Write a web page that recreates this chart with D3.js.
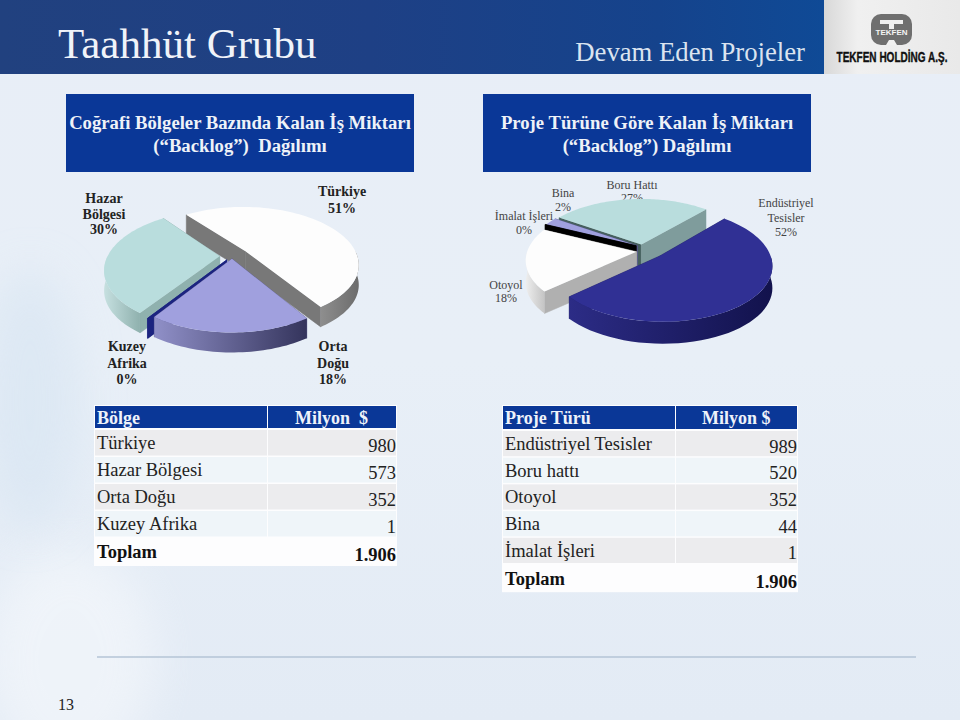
<!DOCTYPE html>
<html>
<head>
<meta charset="utf-8">
<script src="https://cdn.jsdelivr.net/npm/d3@7"></script>
<style>
html, body { margin: 0; padding: 0; background: #e6edf6; }
text { font-family: "Liberation Serif", serif; white-space: pre; }
</style>
</head>
<body>
<div class="chart"></div>
<script>
(function (){

	// Regions
	var regionNames = ["Türkiye", "Hazar Bölgesi", "Orta Doğu", "Kuzey Afrika"];
	var regionValues = [980, 573, 352, 1];
	var regionTotal = "1.906";
	var regionPieOrder = ["Türkiye", "Orta Doğu", "Kuzey Afrika", "Hazar Bölgesi"];
	var regionPercents = [["Türkiye", 51], ["Hazar", "Bölgesi", 30], ["Kuzey", "Afrika", 0], ["Orta", "Doğu", 18]];

	// Project types
	var projectNames = ["Endüstriyel Tesisler", "Boru hattı", "Otoyol", "Bina", "İmalat İşleri"];
	var projectValues = [989, 520, 352, 44, 1];
	var projectTotal = "1.906";
	var projectPieOrder = ["Endüstriyel Tesisler", "Otoyol", "İmalat İşleri", "Bina", "Boru hattı"];
	var projectPercents = [["Endüstriyel", "Tesisler", 52], ["Boru Hattı", 27], ["Otoyol", 18], ["Bina", 2], ["İmalat İşleri", 0]];

	var width = 960, height = 720;

	var svg = d3.select(".chart").append("svg")
		.attr("width", width)
		.attr("height", height)
		.style("display", "block");

	var defs = svg.append("defs");

	function linearGrad(id, stops, horizontal) {
		var g = defs.append("linearGradient").attr("id", id)
			.attr("x1", 0).attr("y1", 0)
			.attr("x2", horizontal ? 1 : 0).attr("y2", horizontal ? 0 : 1);
		stops.forEach(function(s){
			g.append("stop").attr("offset", s[0]).attr("stop-color", s[1]);
		});
	}

	linearGrad("bg", [[0, "#e8eef7"], [0.5, "#e8eff7"], [1, "#e3ebf5"]], false);
	linearGrad("head", [[0, "#21417f"], [0.45, "#1e4085"], [0.8, "#15438c"], [1, "#0f4a96"]], true);
	linearGrad("logoBg", [[0, "#d8d8d8"], [0.25, "#f0f0f0"], [1, "#e9e9e9"]], true);
	linearGrad("wallHazar", [[0, "#c6e0e0"], [1, "#8fb1ae"]], true);
	linearGrad("wallOrta", [[0, "#9090c8"], [1, "#34345c"]], true);
	linearGrad("wallTurkiye", [[0, "#8e8e8e"], [1, "#6c6c6c"]], true);
	linearGrad("wallEnd", [[0, "#2c2c86"], [1, "#12124c"]], true);
	linearGrad("wallOtoyol", [[0, "#eeeeee"], [1, "#c4c4c4"]], true);

	defs.append("filter").attr("id", "soft")
		.attr("x", "-50%").attr("y", "-50%").attr("width", "200%").attr("height", "200%")
		.append("feGaussianBlur").attr("stdDeviation", 22);

	// Background
	svg.append("rect").attr("width", width).attr("height", height).attr("fill", "url(#bg)");
	svg.append("ellipse").attr("cx", 70).attr("cy", 660).attr("rx", 85).attr("ry", 110)
		.attr("fill", "#ffffff").attr("opacity", 0.4).attr("filter", "url(#soft)");
	svg.append("ellipse").attr("cx", 30).attr("cy", 400).attr("rx", 50).attr("ry", 130)
		.attr("fill", "#d6e4f2").attr("opacity", 0.6).attr("filter", "url(#soft)");

	svg.append("rect").attr("width", 824).attr("height", 74).attr("fill", "url(#head)");
	svg.append("rect").attr("x", 824).attr("width", 136).attr("height", 74).attr("fill", "url(#logoBg)");

	// Header text
	svg.append("text").attr("x", 58).attr("y", 58)
		.attr("font-size", 43).attr("fill", "#f0f3f9").text("Taahhüt Grubu");
	svg.append("text").attr("x", 805).attr("y", 61).attr("text-anchor", "end")
		.attr("font-size", 26.7).attr("fill", "#dbe4f0").text("Devam Eden Projeler");

	// Logo
	var logo = svg.append("g");
	logo.append("rect").attr("x", 871).attr("y", 14).attr("width", 41).attr("height", 31)
		.attr("rx", 10).attr("fill", "#6f6f6f");
	logo.append("path").attr("d", "M880 20H903V24H894V29H889V24H880Z M889 40H894L897 45H886Z").attr("fill", "#f0f0f0");
	logo.append("text").attr("x", 891.5).attr("y", 35).attr("text-anchor", "middle")
		.attr("font-size", 8).attr("font-weight", "bold").style("font-family", "'Liberation Sans'")
		.attr("fill", "#f4f4f4").text("TEKFEN");
	var logoName = logo.append("text")
		.attr("text-anchor", "middle")
		.attr("font-size", 15.5).attr("font-weight", "bold").style("font-family", "'Liberation Sans'")
		.attr("stroke", "#111").attr("stroke-width", 0.4)
		.attr("fill", "#111").text("TEKFEN HOLDİNG A.Ş.");
	logoName.attr("transform", "translate(892,62) scale(" + (111 / logoName.node().getComputedTextLength()) + ",1)");

	// Title boxes
	var titleBoxes = [
		{ x: 66, w: 348, cx: 240, lines: ["Coğrafi Bölgeler Bazında Kalan İş Miktarı", "(“Backlog”)  Dağılımı"] },
		{ x: 483, w: 328, cx: 647, lines: ["Proje Türüne Göre Kalan İş Miktarı", "(“Backlog”) Dağılımı"] }
	];
	titleBoxes.forEach(function(b){
		svg.append("rect").attr("x", b.x).attr("y", 94).attr("width", b.w).attr("height", 78).attr("fill", "#0a3797");
		b.lines.forEach(function(l, i){
			svg.append("text").attr("x", b.cx).attr("y", 129 + i * 23).attr("text-anchor", "middle")
				.attr("font-size", 18.7).attr("font-weight", "bold").attr("fill", "#eef2f8").text(l);
		});
	});

	// Bottom rule and page number
	svg.append("line").attr("x1", 97).attr("x2", 916).attr("y1", 657).attr("y2", 657)
		.attr("stroke", "#b4c4d6").attr("stroke-width", 1.5);
	svg.append("text").attr("x", 58).attr("y", 710).attr("font-size", 16).attr("fill", "#222").text("13");

	// Pie labels, drawn under the pies
	function drawLabels(lines, pos, size, bold, color) {
		lines.forEach(function(lab, i){
			lab.forEach(function(t, j){
				svg.append("text")
					.attr("x", pos[i].x)
					.attr("y", pos[i].y + j * pos[i].dy)
					.attr("text-anchor", "middle")
					.attr("font-size", size)
					.attr("font-weight", bold ? "bold" : "normal")
					.attr("fill", color)
					.text(j == lab.length - 1 ? t + "%" : t);
			});
		});
	}

	drawLabels(regionPercents, [
		{ x: 342, y: 196, dy: 17 }, { x: 104, y: 203, dy: 15.5 },
		{ x: 127, y: 351, dy: 16.5 }, { x: 333, y: 351, dy: 16.5 }
	], 14, true, "#222");

	drawLabels(projectPercents, [
		{ x: 786, y: 207, dy: 14.5 }, { x: 632, y: 189, dy: 13 }, { x: 506, y: 289, dy: 13 },
		{ x: 563, y: 197, dy: 14 }, { x: 524, y: 220, dy: 14 }
	], 12, false, "#444");

	// Exploded 3D pie with a simple perspective projection
	function drawPie(cfg) {
		var project = function(X, Y, Z) {
			var s = 1 / (1 - cfg.persp * Y);
			return [cfg.cx + cfg.rx * X * s, cfg.cy + cfg.ry * Y * s + Z];
		};

		var pie = d3.pie().sort(null).value(function(d){ return d.value; })
			.startAngle(cfg.start).endAngle(cfg.start + 2 * Math.PI);
		var arcs = pie(cfg.slices);

		var closed = d3.line().curve(d3.curveLinear);
		function poly(points) { return closed(points) + "Z"; }

		arcs.forEach(function(a){
			a.mid = (a.startAngle + a.endAngle) / 2;
			a.ox = a.data.explode * Math.sin(a.mid);
			a.oy = -a.data.explode * Math.cos(a.mid) + (a.data.drop || 0);
		});

		arcs.slice().sort(function(a, b){ return Math.cos(b.mid) - Math.cos(a.mid); }).forEach(function(a){
			var g = svg.append("g");
			var st = a.data.style;
			function rim(t, z) { return project(a.ox + Math.sin(t), a.oy - Math.cos(t), z); }
			var apexTop = project(a.ox, a.oy, 0), apexLow = project(a.ox, a.oy, cfg.depth);

			// Radial faces
			[a.startAngle, a.endAngle].forEach(function(t, i){
				g.append("path")
					.attr("d", poly([apexTop, rim(t, 0), rim(t, cfg.depth), apexLow]))
					.attr("fill", i == 0 ? st.faceStart : st.faceEnd)
					.attr("stroke", i == 0 ? st.faceStart : st.faceEnd).attr("stroke-width", 0.5);
			});

			// Outer wall, front half only
			var tau = 2 * Math.PI;
			var k = Math.floor(a.startAngle / tau);
			for (var n = k - 1; n <= k + 1; n++) {
				var lo = Math.max(a.startAngle, n * tau + Math.PI / 2);
				var hi = Math.min(a.endAngle, n * tau + 3 * Math.PI / 2);
				if (hi > lo) {
					var ts = d3.range(0, 41).map(function(i){ return lo + (hi - lo) * i / 40; });
					var pts = ts.map(function(t){ return rim(t, 0); })
						.concat(ts.slice().reverse().map(function(t){ return rim(t, cfg.depth); }));
					g.append("path").attr("d", poly(pts)).attr("fill", st.wall);
				}
			}

			// Top face
			var steps = d3.range(0, 81).map(function(i){
				return rim(a.startAngle + (a.endAngle - a.startAngle) * i / 80, 0);
			});
			g.append("path").attr("d", poly([apexTop].concat(steps))).attr("fill", st.top);
		});
	}

	function val(names, values, order) {
		return order.map(function(n){ return values[names.indexOf(n)]; });
	}

	var regionVals = val(regionNames, regionValues, regionPieOrder);
	var regionStyle = [
		{ explode: 0.15, style: { top: "#fdfdfd", wall: "url(#wallTurkiye)", faceStart: "#787878", faceEnd: "#787878" } },
		{ explode: 0.05, style: { top: "#a0a0de", wall: "url(#wallOrta)", faceStart: "#5a5a90", faceEnd: "#5a5a90" } },
		{ explode: 0.08, style: { top: "#1c2480", wall: "#1c2480", faceStart: "#1c2480", faceEnd: "#1c2480" } },
		{ explode: 0.11, style: { top: "#b9dddd", wall: "url(#wallHazar)", faceStart: "#8fb1ae", faceEnd: "#8fb1ae" } }
	];

	drawPie({
		cx: 232, cy: 256, rx: 112, ry: 56, persp: 0.22, depth: 20,
		start: -37.6 * Math.PI / 180,
		slices: regionVals.map(function(v, i){ return { value: v, explode: regionStyle[i].explode, style: regionStyle[i].style }; })
	});

	var projectVals = val(projectNames, projectValues, projectPieOrder);
	var projectStyle = [
		{ explode: 0.23, style: { top: "#303094", wall: "url(#wallEnd)", faceStart: "#20206a", faceEnd: "#20206a" } },
		{ explode: 0.05, drop: 0.08, style: { top: "#fdfdfd", wall: "url(#wallOtoyol)", faceStart: "#b0b0b0", faceEnd: "#b0b0b0" } },
		{ explode: 0.06, style: { top: "#000000", wall: "#000000", faceStart: "#000000", faceEnd: "#000000" } },
		{ explode: 0.05, style: { top: "#a0a0de", wall: "#5a5a90", faceStart: "#5a5a90", faceEnd: "#5a5a90" } },
		{ explode: 0.05, style: { top: "#b9dddd", wall: "#8fb1ae", faceStart: "#46605e", faceEnd: "#7f9c9c" } }
	];

	drawPie({
		cx: 642, cy: 247, rx: 108, ry: 53, persp: 0.15, depth: 22,
		start: 42 * Math.PI / 180,
		slices: projectVals.map(function(v, i){ return { value: v, explode: projectStyle[i].explode, drop: projectStyle[i].drop, style: projectStyle[i].style }; })
	});

	// Tables
	function drawTable(t) {
		var g = svg.append("g");
		var rows = t.names.map(function(n, i){ return [n, t.values[i]]; });
		var rowY = d3.scaleLinear().domain([0, 1]).range([t.y0, t.y0 + t.rowH]);

		g.append("rect").attr("x", t.x).attr("y", 405).attr("width", t.x2 - t.x).attr("height", rowY(rows.length + 1) - 405 + 1).attr("fill", "#fdfdfe");

		// header
		g.append("rect").attr("x", t.x + 1).attr("y", 406).attr("width", t.split - t.x - 2).attr("height", t.y0 - 408).attr("fill", "#0a3797");
		g.append("rect").attr("x", t.split).attr("y", 406).attr("width", t.x2 - t.split - 1).attr("height", t.y0 - 408).attr("fill", "#0a3797");
		g.append("text").attr("x", t.x + 3).attr("y", 424).attr("font-size", 18).attr("font-weight", "bold").attr("fill", "#eef2fa").text(t.head[0]);
		g.append("text").attr("x", t.headX).attr("y", 424).attr("font-size", 18).attr("font-weight", "bold").attr("fill", "#eef2fa").text(t.head[1]);

		var row = g.selectAll(".row").data(rows).enter().append("g").attr("class", "row");
		row.append("rect").attr("x", t.x + 1).attr("y", function(d, i){ return rowY(i); })
			.attr("width", t.split - t.x - 2).attr("height", t.rowH - 1.5)
			.attr("fill", function(d, i){ return i % 2 ? "#eff5f9" : "#ececee"; });
		row.append("rect").attr("x", t.split).attr("y", function(d, i){ return rowY(i); })
			.attr("width", t.x2 - t.split - 1).attr("height", t.rowH - 1.5)
			.attr("fill", function(d, i){ return i % 2 ? "#eff5f9" : "#ececee"; });
		row.append("text").attr("x", t.x + 3).attr("y", function(d, i){ return rowY(i) + 19; })
			.attr("font-size", 18.5).attr("fill", "#222").text(function(d){ return d[0]; });
		row.append("text").attr("x", t.x2 - 1).attr("y", function(d, i){ return rowY(i) + 21.5; })
			.attr("text-anchor", "end").attr("font-size", 18.5).attr("fill", "#222").text(function(d){ return d[1]; });

		g.append("text").attr("x", t.x + 3).attr("y", rowY(rows.length) + 20)
			.attr("font-size", 18.5).attr("font-weight", "bold").attr("fill", "#111").text("Toplam");
		g.append("text").attr("x", t.x2 - 1).attr("y", rowY(rows.length) + 23).attr("text-anchor", "end")
			.attr("font-size", 18.5).attr("font-weight", "bold").attr("fill", "#111").text(t.total);
	}

	drawTable({ x: 94, x2: 397, split: 268, headX: 295, y0: 430, rowH: 27, head: ["Bölge", "Milyon  $"], names: regionNames, values: regionValues, total: regionTotal });
	drawTable({ x: 502, x2: 798, split: 676, headX: 702, y0: 431, rowH: 26.7, head: ["Proje Türü", "Milyon $"], names: projectNames, values: projectValues, total: projectTotal });

})();
</script>
</body>
</html>
